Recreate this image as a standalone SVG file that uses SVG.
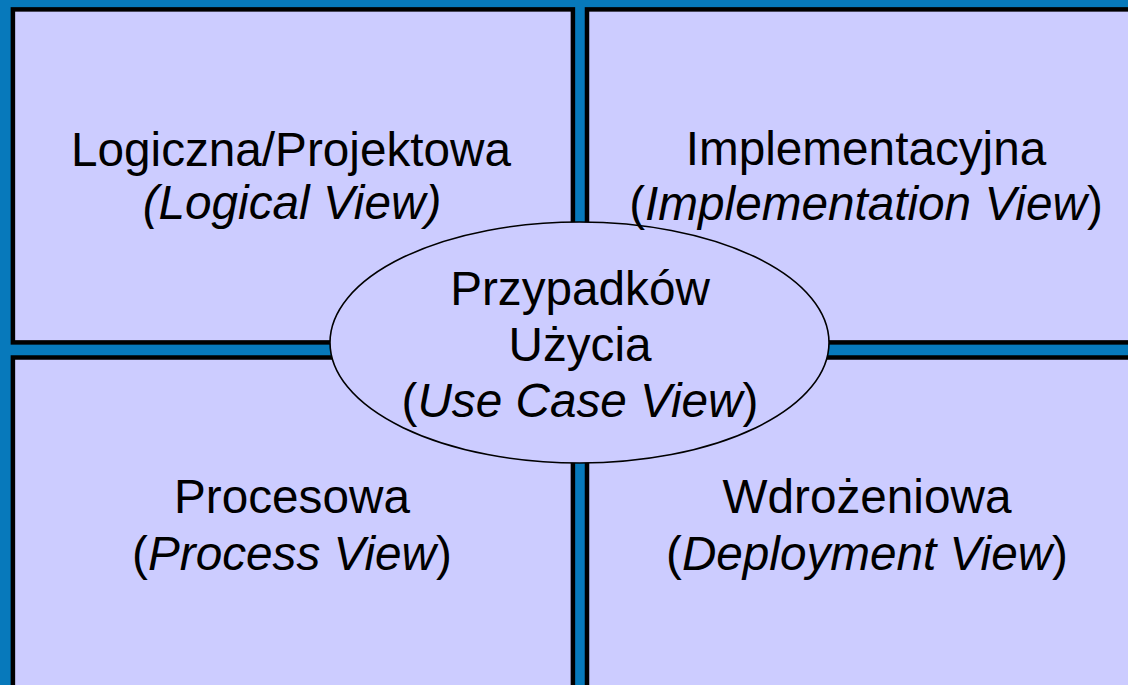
<svg xmlns="http://www.w3.org/2000/svg" width="1128" height="685" viewBox="0 0 1128 685">
<style>
.box{fill:#CCCCFF;stroke:#000;stroke-width:4.5}
.ell{fill:#CCCCFF;stroke:#000;stroke-width:1.6}
.t{font-family:"Liberation Sans",Arial,sans-serif;font-size:47.7px;fill:#000;text-anchor:middle}
.i{font-style:italic}
</style>
<rect width="1128" height="685" fill="#0779BB"/>
<g id="logical">
<rect class="box" x="12.9" y="9.4" width="560" height="333"/>
<text class="t" x="291" y="166">Logiczna/Projektowa</text>
<text class="t i" x="292" y="219">(Logical View)</text>
</g>
<g id="implementation">
<rect class="box" x="587" y="9.4" width="600" height="333"/>
</g>
<g id="process">
<rect class="box" x="12.9" y="357.5" width="560" height="400"/>
<text class="t" x="292" y="513">Procesowa</text>
<text class="t" x="292" y="570">(<tspan class="i">Process View</tspan>)</text>
</g>
<g id="deployment">
<rect class="box" x="587" y="357.5" width="600" height="400"/>
<text class="t" x="867" y="513">Wdrożeniowa</text>
<text class="t" x="867" y="570">(<tspan class="i">Deployment View</tspan>)</text>
</g>
<g id="usecase">
<ellipse class="ell" cx="579.5" cy="342.5" rx="249.5" ry="120.5"/>
<text class="t" x="580" y="305">Przypadków</text>
<text class="t" x="580" y="361">Użycia</text>
<text class="t" x="580" y="417">(<tspan class="i">Use Case View</tspan>)</text>
</g>
<g id="implementation-label">
<text class="t" x="866" y="165">Implementacyjna</text>
<text class="t" x="866" y="220">(<tspan class="i">Implementation View</tspan>)</text>
</g>
<g id="connectors"></g>
</svg>
